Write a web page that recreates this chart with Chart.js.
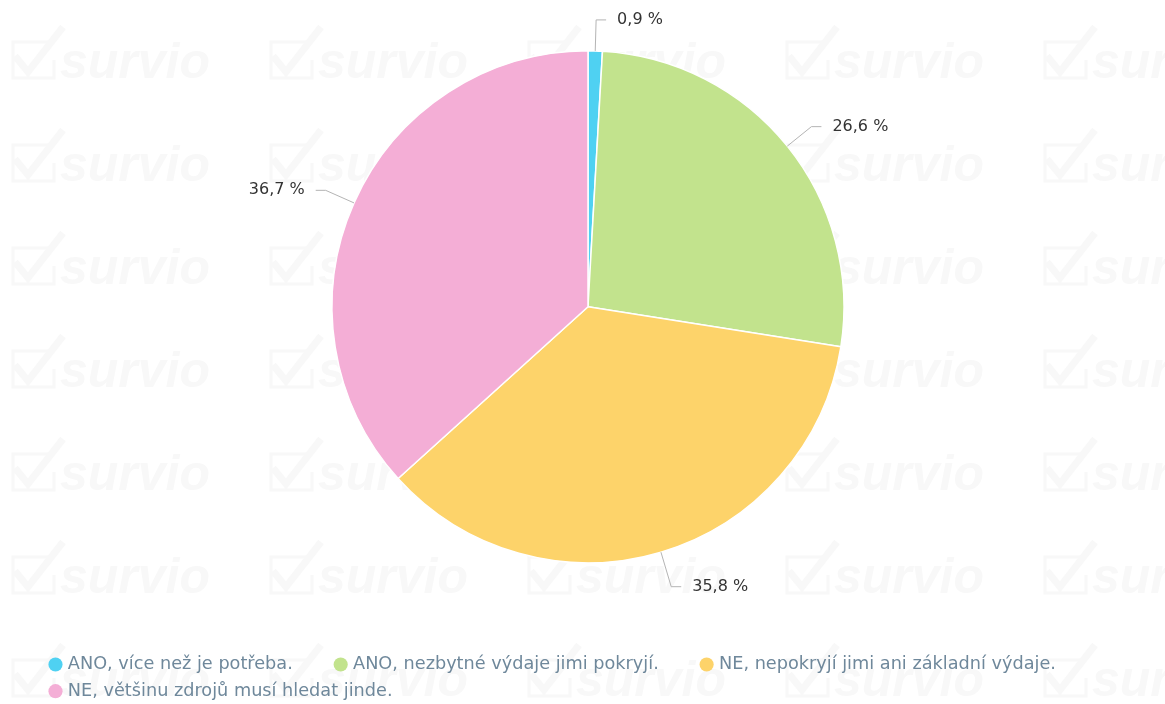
<!DOCTYPE html>
<html>
<head>
<meta charset="utf-8">
<title>Pie</title>
<script src="https://cdn.jsdelivr.net/npm/chart.js@4"></script>
<style>
  html, body { margin: 0; padding: 0; background: #fff; }
  #wrap { width: 1165px; height: 704px; }
</style>
</head>
<body>
<div id="wrap"><canvas id="myChart"></canvas></div>
<script>
var labels = [
  'ANO, více než je potřeba.',
  'ANO, nezbytné výdaje jimi pokryjí.',
  'NE, nepokryjí jimi ani základní výdaje.',
  'NE, většinu zdrojů musí hledat jinde.'
];
var values = [0.9, 26.6, 35.8, 36.7];
var colors = ['#4fd1f2', '#c2e38d', '#fdd36a', '#f4aed6'];

var fmt = function (v) {
  return v.toFixed(1).replace('.', ',') + ' %';
};

// faint "survio" watermark tiles behind the chart
var watermark = {
  id: 'watermark',
  beforeDraw: function (chart) {
    var ctx = chart.ctx;
    ctx.save();
    ctx.fillStyle = '#fff';
    ctx.fillRect(0, 0, chart.width, chart.height);
    ctx.fillStyle = '#f8f8f8';
    ctx.strokeStyle = '#f8f8f8';
    ctx.font = 'bold italic 50px "Liberation Sans"';
    ctx.textBaseline = 'alphabetic';
    for (var j = 0; j < 7; j++) {
      for (var i = 0; i < 5; i++) {
        var ox = i * 258, oy = j * 103;
        ctx.lineWidth = 3;
        ctx.beginPath();
        ctx.moveTo(ox + 50, oy + 42);
        ctx.lineTo(ox + 13, oy + 42);
        ctx.lineTo(ox + 13, oy + 78);
        ctx.lineTo(ox + 54, oy + 78);
        ctx.lineTo(ox + 54, oy + 60);
        ctx.stroke();
        ctx.lineWidth = 7;
        ctx.beginPath();
        ctx.moveTo(ox + 15, oy + 56);
        ctx.lineTo(ox + 28, oy + 72);
        ctx.lineTo(ox + 63, oy + 27);
        ctx.stroke();
        ctx.fillText('survio', ox + 60, oy + 78);
      }
    }
    ctx.restore();
  }
};

// outside labels with connector lines
var pieLabels = {
  id: 'pieLabels',
  afterDatasetsDraw: function (chart) {
    var ctx = chart.ctx;
    var arcs = chart.getDatasetMeta(0).data;
    ctx.save();
    ctx.font = '16px "DejaVu Sans"';
    ctx.textBaseline = 'middle';
    arcs.forEach(function (arc, i) {
      var p = arc.getProps(['x', 'y', 'startAngle', 'endAngle', 'outerRadius'], true);
      var mid = (p.startAngle + p.endAngle) / 2;
      var cos = Math.cos(mid), sin = Math.sin(mid);
      var side = cos >= 0 ? 1 : -1;
      var dist = sin > 0.5 ? 36 : 31;
      var ax = p.x + (p.outerRadius + dist) * cos;
      var ay = p.y + (p.outerRadius + dist) * sin;
      ctx.beginPath();
      ctx.moveTo(p.x + p.outerRadius * cos, p.y + p.outerRadius * sin);
      ctx.lineTo(ax, ay);
      ctx.lineTo(ax + side * 10, ay);
      ctx.strokeStyle = '#b4b4b4';
      ctx.lineWidth = 1;
      ctx.stroke();
      ctx.fillStyle = '#333';
      ctx.textAlign = side > 0 ? 'left' : 'right';
      ctx.fillText(fmt(values[i]), ax + side * 21, ay);
    });
    ctx.restore();
  }
};

var config = {
  type: 'pie',
  data: {
    labels: labels,
    datasets: [{
      data: values,
      backgroundColor: colors,
      borderColor: '#ffffff',
      borderWidth: 1.5,
      radius: 256
    }]
  },
  options: {
    responsive: true,
    maintainAspectRatio: false,
    animation: false,
    layout: { padding: { top: 0, left: 43, right: 32, bottom: -6 } },
    plugins: {
      tooltip: { enabled: false },
      legend: {
        position: 'bottom',
        align: 'start',
        title: { display: true, text: '', padding: { top: 21, bottom: 0 }, font: { size: 10 } },
        labels: {
          usePointStyle: true,
          pointStyle: 'circle',
          boxWidth: 7,
          boxHeight: 10,
          padding: 9,
          color: '#6f889b',
          font: { family: '"DejaVu Sans"', size: 17.7 },
          generateLabels: function (chart) {
            var items = Chart.overrides.pie.plugins.legend.labels.generateLabels(chart);
            items.forEach(function (it) {
              it.text = it.text + '\u2003\u2003';
              it.lineWidth = 0;
            });
            return items;
          }
        }
      }
    }
  },
  plugins: [watermark, pieLabels]
};

new Chart(document.getElementById('myChart'), config);
</script>
</body>
</html>
